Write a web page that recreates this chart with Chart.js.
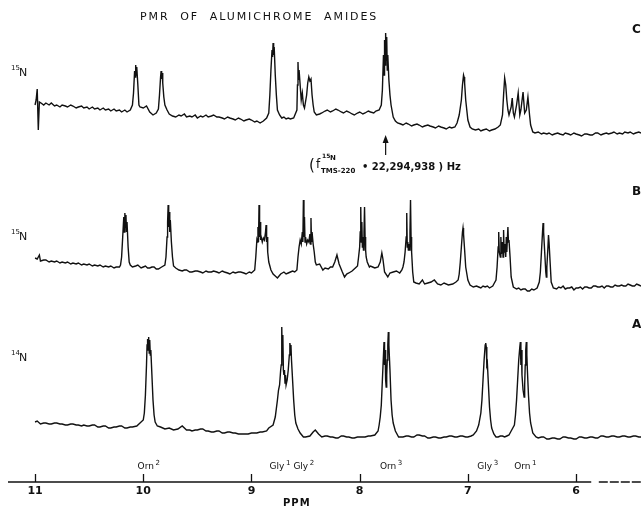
<!DOCTYPE html>
<html>
<head>
<meta charset="utf-8">
<script src="https://cdn.jsdelivr.net/npm/chart.js@4.4.0/dist/chart.umd.min.js"></script>
<style>
  body { margin: 0; background: #fff; }
  canvas { display: block; }
</style>
</head>
<body>
<canvas id="spectrum" width="641" height="508"></canvas>
<script>
/*
PMR of alumichrome amides - three traces.
Each pair is [ppm, signal], signal measured from the trace's own baseline.
*/

var ppm_ticks = [11, 10, 9, 8, 7, 6];
var trace_names = ["C", "B", "A"];
var trace_isotopes = ["15", "15", "14"];
var assignment_names = ["Orn", "Gly", "Gly", "Orn", "Gly", "Orn"];
var assignment_numbers = ["2", "1", "2", "3", "3", "1"];
var assignment_ppm = [9.96, 8.74, 8.52, 7.72, 6.82, 6.48];
var reference_ppm = 7.76;

var trace_C = [
  [11.00,0],[10.99,5],[10.98,16],[10.97,-25],[10.96,3],[10.945,2],
  [10.92,0],[10.90,2],[10.87,0],[10.85,2],[10.82,-1],[10.80,0],[10.77,-2],[10.75,0],[10.72,-1],[10.70,-2],
  [10.67,0],[10.65,-1],[10.62,-3],[10.60,-2],[10.57,-1],[10.55,-3],[10.52,-2],[10.50,-4],[10.47,-2],[10.45,-4],
  [10.42,-3],[10.40,-5],[10.37,-3],[10.35,-5],[10.32,-4],[10.30,-6],[10.27,-4],[10.25,-6],[10.22,-5],[10.20,-7],
  [10.17,-5],[10.15,-7],[10.12,-5],
  [10.10,0],[10.09,12],[10.08,34],[10.075,28],[10.07,40],[10.065,30],[10.06,38],[10.05,20],[10.04,0],[10.03,-2],
  [10.00,-3],[9.97,-1],[9.94,-7],[9.91,-10],[9.88,-8],
  [9.86,-4],[9.85,10],[9.84,28],[9.835,34],[9.83,26],[9.825,32],[9.82,22],[9.81,8],[9.80,0],[9.78,-5],[9.76,-9],[9.73,-11],
  [9.70,-12],[9.67,-10],[9.65,-11],[9.62,-9],[9.60,-12],[9.57,-11],[9.55,-12],[9.52,-10],[9.50,-13],[9.47,-11],
  [9.45,-12],[9.42,-10],[9.40,-12],[9.37,-11],[9.35,-10],[9.32,-12],[9.30,-12],[9.27,-13],[9.25,-14],[9.22,-12],
  [9.20,-13],[9.17,-14],[9.15,-15],[9.12,-13],[9.10,-14],[9.07,-16],[9.05,-15],[9.02,-14],[9.00,-15],[8.97,-17],
  [8.95,-16],[8.92,-18],[8.89,-16],[8.86,-13],
  [8.84,-8],[8.83,10],[8.82,35],[8.81,55],[8.805,48],[8.80,62],[8.795,50],[8.79,58],[8.78,30],[8.77,10],[8.76,-5],
  [8.74,-10],[8.72,-13],[8.70,-12],[8.68,-14],[8.66,-13],[8.64,-14],[8.61,-13],
  [8.58,-5],[8.575,20],[8.57,43],[8.565,25],[8.56,35],[8.55,20],[8.54,5],[8.53,12],[8.52,0],[8.51,-3],
  [8.49,10],[8.48,22],[8.47,28],[8.46,24],[8.45,26],[8.44,10],[8.43,0],[8.42,-7],[8.40,-10],
  [8.37,-9],[8.35,-8],[8.32,-6],[8.30,-5],[8.27,-7],[8.25,-6],[8.22,-4],[8.20,-5],[8.17,-7],[8.15,-8],[8.12,-6],
  [8.10,-7],[8.07,-9],[8.05,-10],[8.02,-8],[8.00,-7],[7.97,-9],[7.95,-8],[7.92,-6],[7.90,-7],[7.87,-8],[7.85,-6],[7.82,-5],
  [7.80,0],[7.79,15],[7.78,50],[7.775,30],[7.77,65],[7.765,40],[7.76,72],[7.755,45],[7.75,68],[7.745,35],[7.74,50],
  [7.73,25],[7.72,10],[7.71,0],[7.69,-12],[7.67,-16],
  [7.65,-18],[7.62,-19],[7.60,-20],[7.57,-18],[7.55,-19],[7.52,-21],[7.50,-20],[7.47,-19],[7.45,-20],[7.42,-22],
  [7.40,-21],[7.37,-20],[7.35,-21],[7.32,-22],[7.30,-23],[7.27,-21],[7.25,-22],[7.22,-23],[7.20,-24],[7.17,-22],
  [7.15,-23],[7.12,-22],[7.10,-18],
  [7.08,-10],[7.06,5],[7.05,20],[7.04,30],[7.035,28],[7.03,22],[7.02,5],[7.00,-15],[6.98,-22],[6.96,-24],
  [6.93,-25],[6.90,-24],[6.88,-26],[6.86,-25],[6.83,-24],[6.80,-26],[6.78,-25],[6.75,-24],[6.72,-22],
  [6.70,-20],[6.68,-10],[6.67,10],[6.66,27],[6.65,20],[6.64,5],[6.63,-5],[6.62,-10],[6.60,-2],[6.59,7],[6.58,-8],
  [6.57,-12],[6.55,0],[6.535,12],[6.52,-10],[6.51,-5],[6.49,13],[6.475,-8],[6.46,-5],[6.445,8],[6.43,-10],[6.42,-20],
  [6.40,-27],[6.38,-28],
  [6.35,-27],[6.32,-29],[6.30,-28],[6.27,-29],[6.25,-28],[6.22,-30],[6.20,-29],[6.17,-28],[6.15,-29],[6.12,-30],
  [6.10,-28],[6.07,-29],[6.05,-30],[6.02,-28],[6.00,-29],[5.97,-30],[5.95,-31],[5.92,-29],[5.90,-29],[5.87,-30],
  [5.85,-30],[5.82,-28],[5.80,-28],[5.77,-30],[5.75,-29],[5.72,-28],[5.70,-29],[5.67,-28],[5.65,-27],[5.62,-29],
  [5.60,-28],[5.57,-29],[5.55,-27],[5.52,-28],[5.50,-27],[5.47,-29],[5.45,-28],[5.42,-27],[5.40,-28]
];

var trace_B = [
  [11.00,4],[10.98,3],[10.96,7],[10.95,1],[10.92,2],[10.90,2],[10.87,0],[10.85,1],[10.82,0],[10.80,1],[10.77,-1],
  [10.75,0],[10.72,-1],[10.70,0],[10.67,-2],[10.65,-1],[10.62,-2],[10.60,-1],[10.57,-3],[10.55,-2],[10.52,-3],
  [10.50,-2],[10.47,-4],[10.45,-3],[10.42,-4],[10.40,-3],[10.37,-5],[10.35,-4],[10.32,-5],[10.30,-4],[10.27,-6],
  [10.25,-5],[10.22,-5],
  [10.21,-3],[10.20,5],[10.19,25],[10.18,45],[10.175,30],[10.17,49],[10.165,35],[10.16,47],[10.155,30],[10.15,40],
  [10.14,15],[10.13,0],[10.12,-3],[10.10,-5],[10.07,-4],[10.05,-3],[10.02,-6],[10.00,-5],[9.98,-4],[9.96,-6],
  [9.94,-6],[9.92,-5],[9.90,-5],[9.88,-7],[9.86,-7],[9.83,-5],
  [9.80,-3],[9.79,5],[9.78,25],[9.775,40],[9.77,57],[9.765,35],[9.76,50],[9.755,30],[9.75,42],[9.74,20],[9.73,5],
  [9.72,-4],[9.70,-6],[9.67,-8],
  [9.64,-9],[9.62,-8],[9.60,-8],[9.57,-10],[9.55,-10],[9.52,-9],[9.50,-9],[9.47,-10],[9.45,-11],[9.42,-9],
  [9.40,-10],[9.37,-10],[9.35,-9],[9.32,-10],[9.30,-11],[9.27,-9],[9.25,-10],[9.22,-11],[9.20,-12],[9.17,-10],
  [9.15,-11],[9.12,-10],[9.10,-10],[9.07,-11],[9.05,-12],[9.02,-10],[9.00,-11],[8.97,-8],
  [8.96,5],[8.95,22],[8.945,20],[8.94,35],[8.935,20],[8.93,57],[8.925,25],[8.92,40],[8.915,22],[8.91,25],[8.90,20],
  [8.89,24],[8.88,22],[8.87,30],[8.865,37],[8.86,20],[8.855,25],[8.85,10],[8.84,0],[8.82,-8],[8.80,-12],[8.78,-14],
  [8.76,-16],[8.73,-12],[8.70,-10],[8.68,-12],[8.66,-11],[8.64,-10],[8.62,-9],[8.60,-10],
  [8.58,-8],[8.57,5],[8.56,15],[8.55,22],[8.54,18],[8.53,30],[8.525,20],[8.52,62],[8.515,25],[8.51,45],[8.505,20],
  [8.50,25],[8.49,18],[8.48,22],[8.47,20],[8.46,28],[8.455,18],[8.45,44],[8.445,20],[8.44,30],[8.43,18],[8.42,10],
  [8.41,0],[8.40,-3],[8.37,-2],[8.34,-8],[8.32,-6],[8.29,-7],[8.27,-5],
  [8.25,-5],[8.23,0],[8.21,7],[8.19,-2],[8.16,-10],[8.14,-15],[8.12,-12],[8.10,-11],[8.07,-9],[8.04,-6],
  [8.02,-4],[8.01,5],[8.00,15],[7.995,30],[7.99,55],[7.985,20],[7.98,40],[7.975,15],[7.97,25],[7.965,12],[7.96,30],
  [7.955,55],[7.95,25],[7.945,12],[7.94,5],[7.93,0],[7.91,-5],[7.90,-4],[7.88,-5],[7.86,-6],
  [7.83,-5],[7.81,0],[7.795,9],[7.785,3],[7.77,-10],[7.74,-15],[7.72,-11],[7.69,-10],[7.66,-9],[7.63,-11],[7.61,-8],
  [7.60,-5],[7.59,0],[7.58,10],[7.57,25],[7.565,49],[7.56,15],[7.555,20],[7.55,12],[7.545,18],[7.54,12],[7.535,30],
  [7.53,62],[7.525,25],[7.52,10],[7.51,-10],[7.50,-20],
  [7.48,-21],[7.45,-22],[7.42,-18],[7.40,-22],[7.37,-21],[7.34,-20],[7.31,-18],[7.28,-22],[7.25,-23],[7.22,-21],
  [7.18,-23],[7.14,-22],[7.11,-20],
  [7.09,-18],[7.08,-12],[7.07,0],[7.06,15],[7.05,30],[7.045,34],[7.04,28],[7.03,12],[7.02,-5],[7.00,-18],[6.98,-23],
  [6.95,-25],[6.92,-24],[6.90,-25],[6.88,-26],[6.86,-24],[6.84,-25],[6.82,-24],[6.80,-26],[6.77,-24],[6.76,-22],
  [6.74,-18],[6.73,-5],[6.72,15],[6.715,30],[6.71,10],[6.70,5],[6.695,25],[6.69,8],[6.68,20],[6.675,5],[6.67,32],
  [6.665,10],[6.66,18],[6.65,5],[6.645,25],[6.64,10],[6.63,35],[6.625,20],[6.62,22],[6.61,5],[6.60,-15],[6.58,-25],
  [6.55,-27],[6.53,-26],[6.51,-28],[6.49,-27],[6.47,-27],[6.45,-29],[6.43,-29],[6.41,-27],[6.39,-28],[6.36,-26],[6.34,-20],
  [6.33,-10],[6.32,10],[6.31,30],[6.305,39],[6.30,30],[6.29,10],[6.28,-10],[6.275,-15],[6.27,-5],[6.26,15],[6.255,27],
  [6.25,20],[6.24,0],[6.23,-20],[6.21,-26],
  [6.18,-27],[6.16,-25],[6.14,-26],[6.12,-24],[6.10,-27],[6.08,-26],[6.06,-26],[6.04,-25],[6.02,-28],[6.00,-26],
  [5.98,-26],[5.96,-25],[5.94,-27],[5.92,-25],[5.90,-25],[5.88,-26],[5.86,-26],[5.84,-24],[5.82,-24],[5.80,-25],
  [5.78,-25],[5.76,-24],[5.74,-26],[5.72,-24],[5.70,-24],[5.68,-25],[5.66,-25],[5.64,-23],[5.62,-24],[5.60,-24],
  [5.58,-23],[5.56,-24],[5.54,-24],[5.52,-22],[5.50,-23],[5.48,-24],[5.46,-24],[5.44,-22],[5.42,-23],[5.40,-24]
];

var trace_A = [
  [11.00,3],[10.98,4],[10.95,1],[10.92,2],[10.90,2],[10.87,1],[10.85,1],[10.82,2],[10.80,2],[10.77,1],[10.75,1],
  [10.72,0],[10.70,0],[10.67,1],[10.65,1],[10.62,0],[10.60,0],[10.57,-1],[10.55,0],[10.52,-1],[10.50,-1],[10.47,0],
  [10.45,0],[10.42,-2],[10.40,-2],[10.37,-1],[10.35,-1],[10.32,-3],[10.30,-3],[10.27,-2],[10.25,-2],[10.22,-1],
  [10.20,-1],[10.17,-3],[10.15,-3],[10.12,-2],[10.10,-2],[10.06,-1],[10.03,2],
  [10.00,5],[9.99,12],[9.98,30],[9.97,60],[9.965,80],[9.96,86],[9.955,75],[9.95,88],[9.945,72],[9.94,85],[9.935,70],
  [9.93,75],[9.92,50],[9.91,25],[9.90,10],[9.89,3],[9.87,-1],[9.84,-2],[9.80,-4],[9.76,-3],[9.72,-5],[9.68,-4],
  [9.64,-1],[9.60,-5],[9.57,-5],[9.55,-6],[9.52,-5],[9.50,-5],[9.47,-4],[9.45,-4],[9.42,-6],[9.40,-6],[9.37,-7],
  [9.35,-7],[9.32,-6],[9.30,-6],[9.27,-8],[9.25,-8],[9.22,-7],[9.20,-7],[9.17,-8],[9.15,-8],[9.12,-9],[9.10,-9],
  [9.06,-9],[9.03,-9],[9.00,-8],[8.97,-8],[8.95,-8],[8.92,-7],[8.90,-7],[8.86,-6],[8.84,-3],
  [8.80,0],[8.78,8],[8.76,25],[8.75,35],[8.74,40],[8.73,55],[8.725,60],[8.72,98],[8.715,70],[8.71,90],[8.705,55],
  [8.70,50],[8.695,55],[8.69,42],[8.685,50],[8.68,40],[8.67,45],[8.66,55],[8.65,70],[8.645,82],[8.64,78],[8.635,80],
  [8.63,65],[8.62,45],[8.61,25],[8.60,10],[8.59,2],[8.57,-4],[8.55,-8],[8.52,-12],[8.50,-12],[8.46,-11],[8.43,-7],
  [8.41,-5],[8.38,-9],[8.35,-12],[8.32,-11],[8.30,-11],[8.27,-12],[8.25,-12],[8.22,-13],[8.20,-13],[8.17,-11],
  [8.15,-11],[8.12,-12],[8.10,-12],[8.07,-13],[8.05,-13],[8.02,-12],[8.00,-12],[7.97,-12],[7.95,-12],[7.92,-11],
  [7.90,-11],[7.86,-10],[7.83,-6],
  [7.82,0],[7.81,8],[7.80,20],[7.79,45],[7.78,70],[7.775,83],[7.77,60],[7.765,75],[7.76,45],[7.755,38],[7.75,50],
  [7.745,65],[7.74,80],[7.735,93],[7.73,80],[7.72,55],[7.71,25],[7.70,10],[7.69,2],[7.67,-6],[7.64,-12],
  [7.62,-12],[7.60,-12],[7.57,-11],[7.55,-11],[7.52,-12],[7.50,-12],[7.47,-10],[7.45,-10],[7.42,-11],[7.40,-11],
  [7.37,-13],[7.35,-13],[7.32,-12],[7.30,-12],[7.27,-13],[7.25,-13],[7.22,-12],[7.20,-12],[7.17,-11],[7.15,-11],
  [7.12,-12],[7.10,-12],[7.07,-11],[7.05,-11],[7.02,-12],[7.00,-12],[6.97,-11],[6.95,-10],[6.92,-6],
  [6.90,0],[6.88,12],[6.87,25],[6.86,45],[6.85,65],[6.84,80],[6.835,82],[6.83,78],[6.825,60],[6.82,62],[6.81,40],
  [6.80,18],[6.79,5],[6.78,-3],[6.76,-9],[6.74,-12],[6.72,-12],[6.70,-11],[6.68,-11],[6.66,-12],[6.64,-11],
  [6.62,-10],[6.60,-6],
  [6.57,0],[6.56,10],[6.55,25],[6.54,45],[6.53,65],[6.52,78],[6.515,83],[6.51,60],[6.505,75],[6.50,50],[6.49,35],
  [6.48,28],[6.475,40],[6.47,60],[6.465,75],[6.46,83],[6.455,70],[6.45,55],[6.44,30],[6.43,12],[6.42,2],[6.40,-8],
  [6.37,-12],[6.35,-13],[6.32,-12],[6.30,-12],[6.27,-14],[6.25,-14],[6.22,-13],[6.20,-13],[6.17,-14],[6.15,-14],
  [6.12,-12],[6.10,-12],[6.07,-13],[6.05,-13],[6.02,-14],[6.00,-14],[5.97,-12],[5.95,-12],[5.92,-13],[5.90,-13],
  [5.87,-12],[5.85,-12],[5.82,-13],[5.80,-13],[5.77,-11],[5.75,-11],[5.72,-12],[5.70,-12],[5.67,-11],[5.65,-11],
  [5.62,-12],[5.60,-12],[5.57,-11],[5.55,-11],[5.52,-12],[5.50,-12],[5.47,-11],[5.45,-11],[5.42,-12],[5.40,-12]
];

/* where each trace sits on the page (y units = pixels above the ppm axis) */
var trace_offsets = [377, 220, 57];
var traces = [trace_C, trace_B, trace_A];
var font_family = "'DejaVu Sans', sans-serif";

function to_points(pairs, offset) {
  return pairs.map(function (p) { return {x: p[0], y: p[1] + offset}; });
}

/* text with a raised number, e.g. Orn² */
function sup_text(ctx, base, sup, x, y, size) {
  ctx.font = size + "px " + font_family;
  ctx.textBaseline = "middle";
  ctx.textAlign = "left";
  var w = ctx.measureText(base).width;
  ctx.fillText(base, x, y);
  ctx.font = Math.round(size * 0.75) + "px " + font_family;
  ctx.fillText(sup, x + w + 1.5, y - size * 0.45);
  return w + 1.5 + ctx.measureText(sup).width;
}

var decorations = {
  id: "decorations",
  afterDraw: function (chart) {
    var ctx = chart.ctx;
    var xs = chart.scales.x;
    var area = chart.chartArea;
    var axis_y = area.bottom;
    ctx.save();
    ctx.strokeStyle = "#111";
    ctx.fillStyle = "#111";

    /* ppm axis line: solid, then broken at the far right */
    ctx.lineWidth = 1.6;
    ctx.beginPath();
    ctx.moveTo(area.left, axis_y);
    ctx.lineTo(xs.getPixelForValue(5.86), axis_y);
    ctx.stroke();
    ctx.setLineDash([9, 2]);
    ctx.beginPath();
    ctx.moveTo(xs.getPixelForValue(5.79), axis_y);
    ctx.lineTo(area.right, axis_y);
    ctx.stroke();
    ctx.setLineDash([]);

    /* tick marks pointing up */
    ctx.lineWidth = 1.3;
    ppm_ticks.forEach(function (v) {
      var px = Math.round(xs.getPixelForValue(v)) + 0.5;
      ctx.beginPath();
      ctx.moveTo(px, axis_y);
      ctx.lineTo(px, axis_y - 8);
      ctx.stroke();
    });

    /* title */
    ctx.font = "11px " + font_family;
    ctx.letterSpacing = "1.9px";
    ctx.textBaseline = "middle";
    ctx.textAlign = "left";
    ctx.fillText("PMR  OF  ALUMICHROME  AMIDES", 140, 17);
    ctx.letterSpacing = "0px";

    /* PPM */
    ctx.font = "bold 10px " + font_family;
    ctx.letterSpacing = "1px";
    ctx.fillText("PPM", 283, 503);
    ctx.letterSpacing = "0px";

    /* trace letters and isotope labels */
    var letter_y = [30, 192, 325];
    var iso_y = [72, 236, 357];
    for (var i = 0; i < trace_names.length; i++) {
      ctx.font = "bold 12px " + font_family;
      ctx.textAlign = "left";
      ctx.fillText(trace_names[i], 632, letter_y[i]);
      ctx.font = "7px " + font_family;
      ctx.fillText(trace_isotopes[i], 11, iso_y[i] - 4);
      ctx.font = "11px " + font_family;
      ctx.fillText("N", 19, iso_y[i] + 1);
    }

    /* assignments under spectrum A */
    for (var j = 0; j < assignment_names.length; j++) {
      var cx = xs.getPixelForValue(assignment_ppm[j]);
      sup_text(ctx, assignment_names[j], assignment_numbers[j], cx - 10, 467, 9);
    }

    /* reference frequency arrow and note */
    var ax = xs.getPixelForValue(reference_ppm);
    ctx.lineWidth = 1.2;
    ctx.beginPath();
    ctx.moveTo(ax, 155);
    ctx.lineTo(ax, 139);
    ctx.stroke();
    ctx.beginPath();
    ctx.moveTo(ax, 135);
    ctx.lineTo(ax - 3, 143);
    ctx.lineTo(ax + 3, 143);
    ctx.closePath();
    ctx.fill();

    ctx.font = "15px " + font_family;
    ctx.textBaseline = "middle";
    ctx.fillText("(", 309, 166);
    ctx.font = "12px " + font_family;
    ctx.fillText("f", 316, 165);
    ctx.font = "bold 6px " + font_family;
    ctx.fillText("15", 322, 156);
    ctx.font = "bold 7px " + font_family;
    ctx.fillText("N", 330, 158);
    ctx.fillText("TMS-220", 321, 171);
    ctx.font = "bold 10px " + font_family;
    ctx.fillText("\u2022 22,294,938 ) Hz", 362, 167);

    ctx.restore();
  }
};

var datasets = traces.map(function (t, i) {
  return {
    label: trace_names[i],
    data: to_points(t, trace_offsets[i]),
    borderColor: "#111",
    borderWidth: 1.4,
    pointRadius: 0,
    tension: 0,
    fill: false
  };
});

var ctx = document.getElementById("spectrum");
var chart = new Chart(ctx, {
  type: "line",
  data: {datasets: datasets},
  options: {
    responsive: false,
    animation: false,
    events: [],
    layout: {padding: {left: 8, right: 0, top: 0, bottom: 0}},
    plugins: {legend: {display: false}, tooltip: {enabled: false}},
    scales: {
      x: {
        type: "linear",
        min: 5.40,
        max: 11.25,
        reverse: true,
        grid: {display: false, drawTicks: false},
        border: {display: false},
        afterBuildTicks: function (s) { s.ticks = ppm_ticks.map(function (v) { return {value: v}; }); },
        afterFit: function (s) { s.height = 26; },
        ticks: {
          padding: 3,
          autoSkip: false,
          maxRotation: 0,
          color: "#111",
          font: {family: font_family, size: 11, weight: "bold"}
        }
      },
      y: {display: false, min: 0, max: 482}
    }
  },
  plugins: [decorations]
});
</script>
</body>
</html>
